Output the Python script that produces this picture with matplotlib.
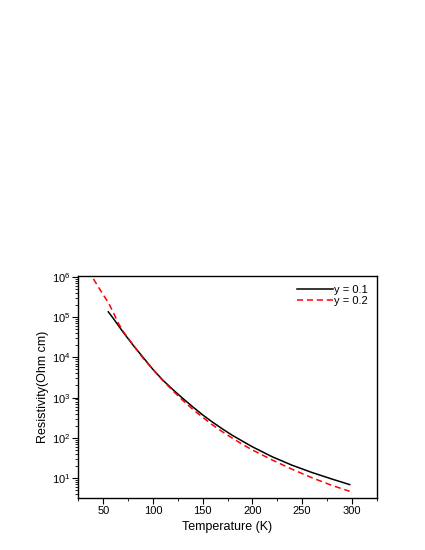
import numpy as np
import matplotlib
matplotlib.use("Agg")
import matplotlib.pyplot as plt
from matplotlib.ticker import MultipleLocator, LogLocator, FixedLocator

# resistivity vs temperature
temp_01 = [55, 60, 70, 80, 90, 100, 110, 120, 130, 140, 150, 160, 170, 180,
           190, 200, 220, 240, 260, 280, 298]
rho_01 = [1.35e5, 9.3e4, 4.2e4, 2.0e4, 1.0e4, 5.0e3, 2.7e3, 1.58e3, 955, 589,
          372, 245, 166, 115, 83, 60, 33.9, 20.9, 13.8, 9.5, 6.9]

temp_02 = [40, 45, 50, 55, 60, 65, 70, 80, 90, 100, 110, 120, 130, 140, 150,
           160, 170, 180, 190, 200, 220, 240, 260, 280, 298]
rho_02 = [8.9e5, 5.6e5, 3.55e5, 2.3e5, 1.32e5, 7.1e4, 4.4e4, 2.04e4, 9.5e3,
          5.0e3, 2.63e3, 1.48e3, 851, 513, 324, 209, 141, 98, 69, 50, 28.2,
          16.6, 10.2, 6.6, 4.7]

plt.rcParams['font.family'] = ['Liberation Sans', 'DejaVu Sans']
plt.rcParams['mathtext.fontset'] = 'custom'
plt.rcParams['mathtext.rm'] = 'Liberation Sans'
plt.rcParams['mathtext.it'] = 'Liberation Sans:italic'

fig = plt.figure(figsize=(4.25, 5.5), dpi=100)
ax = fig.add_axes([0.1847, 0.0945, 0.7012, 0.4037])

ax.plot(temp_01, rho_01, color='black', lw=1.1, label='y = 0.1')
ax.plot(temp_02, rho_02, color='red', lw=1.1, ls=(0, (4, 2.5)), label='y = 0.2')

ax.set_yscale('log')
ax.set_xlim(25, 325)
ax.set_ylim(3.2, 1.05e6)

ax.xaxis.set_minor_locator(MultipleLocator(25))
ax.set_xticks([50, 100, 150, 200, 250, 300])
ax.yaxis.set_major_locator(FixedLocator([1e1, 1e2, 1e3, 1e4, 1e5, 1e6]))
ax.yaxis.set_minor_locator(LogLocator(base=10, subs=np.arange(2, 10)))
ax.set_yticklabels([r'$10^{%d}$' % k for k in range(1, 7)])

ax.tick_params(which='major', direction='out', length=4, width=0.8, labelsize=8, pad=2)
ax.tick_params(which='minor', direction='out', length=2, width=0.6)
ax.tick_params(axis='y', which='minor', labelleft=False)
for s in ax.spines.values():
    s.set_linewidth(1.0)

ax.set_xlabel('Temperature (K)', fontsize=9, labelpad=3)
ax.set_ylabel('Resistivity(Ohm cm)', fontsize=9, labelpad=2)

ax.legend(loc='upper right', frameon=False, fontsize=8, handlelength=3.2,
          handletextpad=0.1, borderaxespad=0.4, labelspacing=0.1)

fig.savefig('out.png', dpi=100)
